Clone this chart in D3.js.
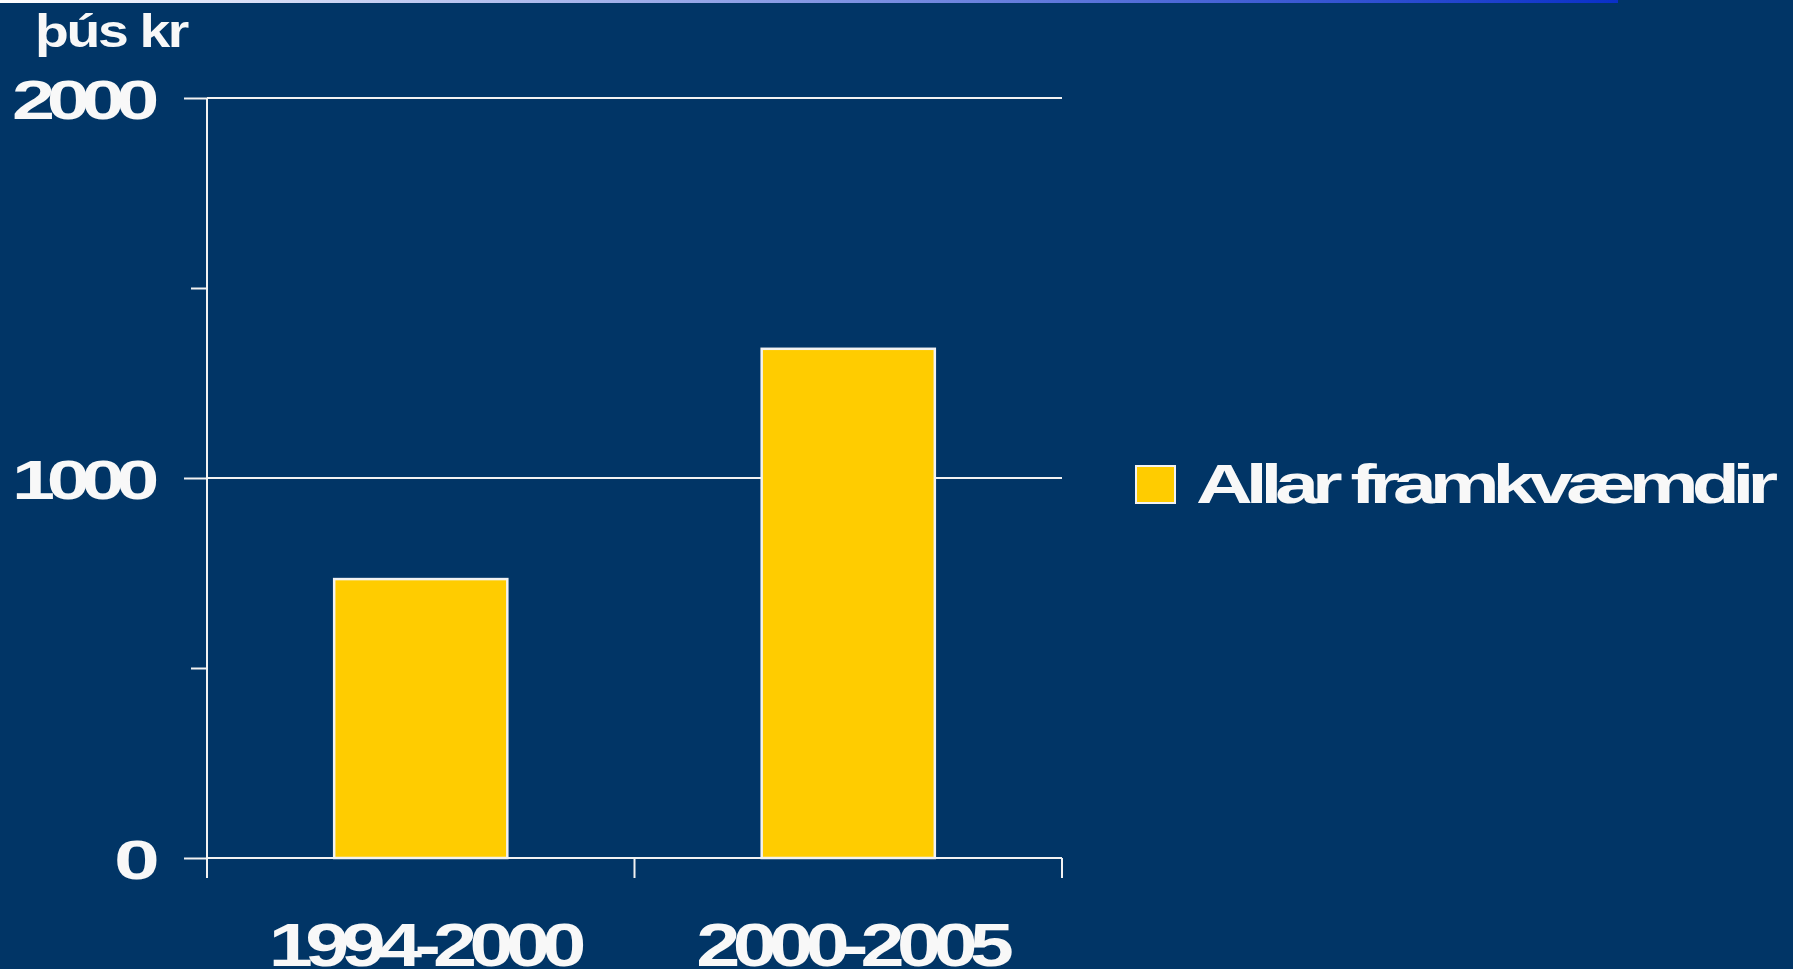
<!DOCTYPE html>
<html>
<head>
<meta charset="utf-8">
<script src="https://cdn.jsdelivr.net/npm/d3@7"></script>
<style>
    html, body { margin: 0; padding: 0; background: #013566; overflow: hidden; }
    text { font-family: "Liberation Sans", Arial, sans-serif; font-weight: bold; fill: #f8f8f8; }
</style>
</head>
<body>
<div id="chart"></div>
<script>
// data
const categories = ['1994-2000', '2000-2005'];
const values = [734, 1340];
const seriesName = 'Allar framkvæmdir';
const yMajorTicks = [0, 1000, 2000];
const yMinorTicks = [500, 1500];
const yUnit = 'þús kr';

const wSvg = 1793, hSvg = 969;
const xLeft = 207, xRight = 1062, yTop = 98, yBottom = 858;
const barColor = '#ffcc00';
const lineColor = '#f2f2f2';

let svg = d3.select('#chart')
    .append('svg')
    .attr('width', wSvg)
    .attr('height', hSvg);

// top gradient strip
const grad = svg.append('defs').append('linearGradient')
    .attr('id', 'topGrad');
grad.append('stop').attr('offset', '0%').attr('stop-color', '#ffffff');
grad.append('stop').attr('offset', '100%').attr('stop-color', '#0a30c8');
svg.append('rect')
    .attr('x', 0).attr('y', 0)
    .attr('width', 1618).attr('height', 3)
    .attr('fill', 'url(#topGrad)');

let xScale = d3.scaleBand()
    .domain(categories)
    .range([xLeft, xRight]);

let yScale = d3.scaleLinear()
    .domain([0, 2000])
    .range([yBottom, yTop]);

// gridlines
svg.append('g')
    .selectAll('line')
    .data(yMajorTicks.filter(d => d > 0))
    .enter()
    .append('line')
    .attr('x1', xLeft).attr('x2', xRight)
    .attr('y1', d => yScale(d)).attr('y2', d => yScale(d))
    .attr('stroke', lineColor)
    .attr('stroke-width', 2);

// bars
const barW = xScale.bandwidth() * 0.405;
svg.append('g')
    .selectAll('rect')
    .data(values)
    .enter()
    .append('rect')
    .attr('x', (d, i) => xScale(categories[i]) + xScale.bandwidth() / 2 - barW / 2)
    .attr('y', d => yScale(d))
    .attr('width', barW)
    .attr('height', d => yScale(0) - yScale(d))
    .attr('fill', barColor)
    .attr('stroke', lineColor)
    .attr('stroke-width', 2.5);

// y axis: major ticks with labels, minor ticks
let yAx = svg.append('g')
    .attr('transform', `translate(${xLeft}, 0)`)
    .call(d3.axisLeft(yScale)
        .tickValues(yMajorTicks)
        .tickSize(23)
        .tickPadding(33)
        .tickFormat(d3.format('d')));

svg.append('g')
    .attr('transform', `translate(${xLeft}, 0)`)
    .call(d3.axisLeft(yScale)
        .tickValues(yMinorTicks)
        .tickSize(16)
        .tickFormat(''))
    .select('.domain').remove();

yAx.select('.domain').attr('stroke', lineColor).attr('stroke-width', 2)
    .attr('d', `M0,${yTop}V${yBottom + 20}`);
svg.selectAll('.tick line').attr('stroke', lineColor).attr('stroke-width', 2);
yAx.selectAll('text')
    .attr('fill', '#f8f8f8')
    .style('font-size', '56px')
    .style('font-family', '"Liberation Sans", Arial, sans-serif')
    .style('font-weight', 'bold')
    .attr('dy', '0.36em')
    .attr('letter-spacing', -6)
    .attr('textLength', d => d === 0 ? 37 : 139)
    .attr('lengthAdjust', 'spacingAndGlyphs');

// x axis
svg.append('line')
    .attr('x1', xLeft).attr('x2', xRight)
    .attr('y1', yBottom).attr('y2', yBottom)
    .attr('stroke', lineColor)
    .attr('stroke-width', 2);

const xEdges = categories.map(c => xScale(c)).concat([xScale.range()[1]]);
svg.append('g')
    .selectAll('line')
    .data(xEdges)
    .enter()
    .append('line')
    .attr('x1', d => d).attr('x2', d => d)
    .attr('y1', yBottom).attr('y2', yBottom + 20)
    .attr('stroke', lineColor)
    .attr('stroke-width', 2);

svg.append('g')
    .selectAll('text')
    .data(categories)
    .enter()
    .append('text')
    .attr('x', d => xScale(d) + xScale.bandwidth() / 2 + 3)
    .attr('y', 966)
    .attr('text-anchor', 'middle')
    .attr('letter-spacing', -6)
    .attr('textLength', 310)
    .attr('lengthAdjust', 'spacingAndGlyphs')
    .style('font-size', '62px')
    .text(d => d);

// unit label
svg.append('text')
    .attr('x', 35)
    .attr('y', 47)
    .attr('letter-spacing', -2)
    .attr('textLength', 152)
    .attr('lengthAdjust', 'spacingAndGlyphs')
    .style('font-size', '47px')
    .text(yUnit);

// legend
let gLegend = svg.append('g')
    .attr('transform', 'translate(1135, 465)');
gLegend.append('rect')
    .attr('x', 1).attr('y', 1)
    .attr('width', 39).attr('height', 37)
    .attr('fill', barColor)
    .attr('stroke', lineColor)
    .attr('stroke-width', 2);
gLegend.append('text')
    .attr('x', 61)
    .attr('y', 38)
    .attr('letter-spacing', -5)
    .attr('textLength', 575)
    .attr('lengthAdjust', 'spacingAndGlyphs')
    .style('font-size', '56px')
    .text(seriesName);
</script>
</body>
</html>
